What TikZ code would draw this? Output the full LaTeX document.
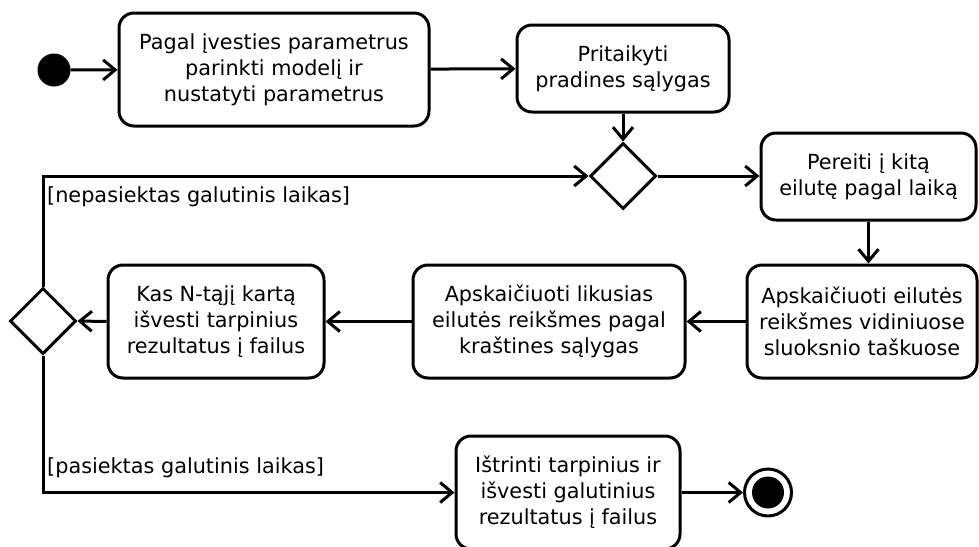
\documentclass[tikz,border=0pt]{standalone}
\usepackage{fontspec}
\setmainfont{DejaVu Sans}
\usetikzlibrary{shapes.geometric,arrows.meta}
\begin{document}
\begin{tikzpicture}[x=1pt,y=-1pt,
  every node/.style={font=\fontsize{20.8}{26}\selectfont},
  act/.style={draw,line width=3pt,rounded corners=15pt,align=center,inner sep=0pt},
  dec/.style={draw,line width=3pt,diamond,aspect=1,minimum width=66pt,minimum height=66pt,inner sep=0pt},
  flow/.style={line width=3pt,-{Straight Barb[length=12pt,width=20pt,line width=3pt]}},
  guard/.style={anchor=west,inner sep=0pt}]
\useasboundingbox[clip] (0,0) rectangle (979,546);
\node[circle,fill=black,minimum size=33pt,inner sep=0pt] (start) at (54,70) {};
\node[act,minimum width=310pt,minimum height=113pt] (b1) at (274,69.5) {Pagal įvesties parametrus\\parinkti modelį ir\\nustatyti parametrus};
\node[act,minimum width=212pt,minimum height=87pt] (b2) at (623,68.5) {Pritaikyti\\pradines sąlygas};
\node[dec] (d1) at (623,176) {};
\node[act,minimum width=215pt,minimum height=87pt] (b3) at (868.5,176.5) {Pereiti į kitą\\eilutę pagal laiką};
\node[act,minimum width=230pt,minimum height=113pt] (b4) at (862,321.5) {Apskaičiuoti eilutės\\reikšmes vidiniuose\\sluoksnio taškuose};
\node[act,minimum width=272pt,minimum height=113pt] (b5) at (549,321.5) {Apskaičiuoti likusias\\eilutės reikšmes pagal\\kraštines sąlygas};
\node[act,minimum width=216pt,minimum height=113pt] (b6) at (216,321.5) {Kas N-tąjį kartą\\išvesti tarpinius\\rezultatus į failus};
\node[dec] (d2) at (43,321) {};
\node[act,minimum width=224pt,minimum height=113pt] (b7) at (568,492.5) {Ištrinti tarpinius ir\\išvesti galutinius\\rezultatus į failus};
\node[circle,draw,line width=3pt,minimum size=47pt,inner sep=0pt] (end) at (768,492.5) {};
\node[circle,fill=black,minimum size=32pt,inner sep=0pt] (endin) at (end.center) {};
\draw[flow] (start) -- (b1);
\draw[flow] (b1) -- (b2);
\draw[flow] (b2) -- (d1);
\draw[flow] (d1) -- (b3.west |- d1);
\draw[flow] (b3.south) -- (b3.south |- b4.north);
\draw[flow] (b4.west) -- (b5.east);
\draw[flow] (b5.west) -- (b6.east);
\draw[flow] (b6.west) -- (d2.east);
\draw[flow] (d2.north) |- (d1.west);
\draw[flow] (d2.south) |- (b7.west);
\draw[flow] (b7.east) -- (end);
\node[guard] (g1) at (47,197) {[nepasiektas galutinis laikas]};
\node[guard] (g2) at (47,468) {[pasiektas galutinis laikas]};
\end{tikzpicture}
\end{document}
